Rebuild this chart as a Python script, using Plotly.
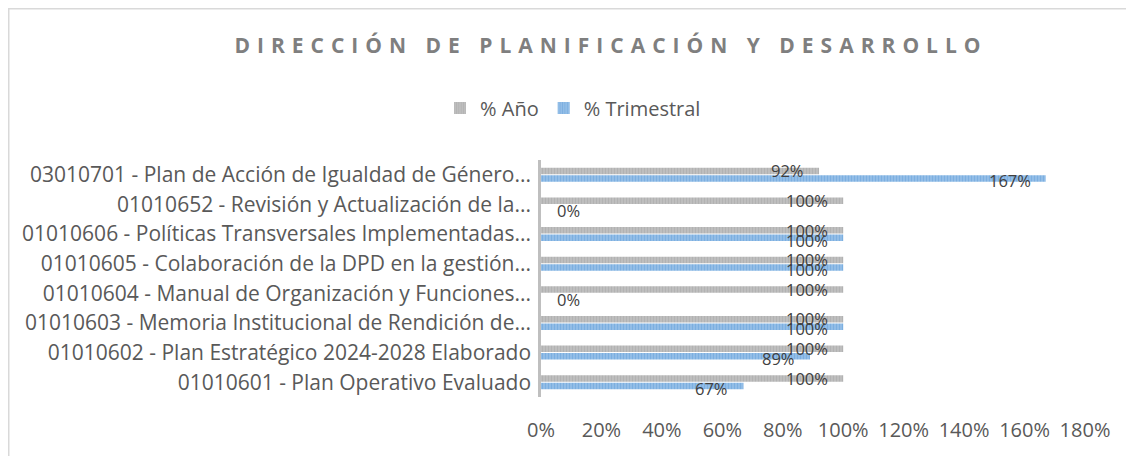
import plotly.graph_objects as go

categories = [
    "01010601 - Plan Operativo Evaluado",
    "01010602 - Plan Estratégico 2024-2028 Elaborado",
    "01010603 - Memoria Institucional de Rendición de...",
    "01010604 - Manual de Organización y Funciones...",
    "01010605 - Colaboración de la DPD en la gestión...",
    "01010606 - Políticas Transversales Implementadas...",
    "01010652 - Revisión y Actualización de la...",
    "03010701 - Plan de Acción de Igualdad de Género...",
]
pct_anio = [1.00, 1.00, 1.00, 1.00, 1.00, 1.00, 1.00, 0.92]
pct_trim = [0.67, 0.89, 1.00, 0.00, 1.00, 1.00, 0.00, 1.67]
x_ticks = [0, 0.2, 0.4, 0.6, 0.8, 1.0, 1.2, 1.4, 1.6, 1.8]

FONT = "Open Sans"
TXT = "#595959"
W, H = 1134, 456
OX, OY = 8, 8  # page body offset

# plot area in screen pixels
PL, PR, PT, PB = 541, 1085, 160, 397

fig = go.Figure()
fig.add_trace(go.Bar(
    name="% Trimestral", y=categories, x=pct_trim, orientation="h",
    marker=dict(color="#8fbbe6", line=dict(width=0),
                pattern=dict(shape="|", fgcolor="#5b9bd5", bgcolor="#9cc3ea", size=3, solidity=0.55)),
))
fig.add_trace(go.Bar(
    name="% Año", y=categories, x=pct_anio, orientation="h",
    marker=dict(color="#bdbdbd", line=dict(width=0),
                pattern=dict(shape="|", fgcolor="#a0a0a0", bgcolor="#c4c4c4", size=3, solidity=0.55)),
))

def add_labels(vals, shift_y):
    for c, v in zip(categories, vals):
        txt = f"{round(v*100):.0f}%"
        if v > 0:
            fig.add_annotation(x=v, y=c, text=txt, showarrow=False, xanchor="right",
                               xshift=-13, yshift=shift_y,
                               font=dict(family=FONT, size=16.5, color="#404040"))
        else:
            fig.add_annotation(x=v, y=c, text=txt, showarrow=False, xanchor="left",
                               xshift=14, yshift=shift_y,
                               font=dict(family=FONT, size=16.5, color="#404040"))

add_labels(pct_anio, 4)
add_labels(pct_trim, -6)

fig.update_layout(
    width=W, height=H,
    margin=dict(l=PL-OX, r=W-(PR-OX), t=PT-OY, b=H-(PB-OY), autoexpand=False),
    paper_bgcolor="white", plot_bgcolor="white",
    barmode="group", bargap=0.5, bargroupgap=0.12,
    font=dict(family=FONT, size=16, color=TXT),
    title=dict(text='<b><span style="letter-spacing:7px">DIRECCIÓN DE PLANIFICACIÓN Y DESARROLLO</span></b>',
               x=(611-OX)/W, xanchor="center", xref="container",
               y=1-(45.5-OY)/H, yanchor="middle", yref="container",
               font=dict(family=FONT, size=21, color="#7f7f7f")),
    legend=dict(orientation="h", traceorder="reversed",
                x=(573-OX)/W, xanchor="center", xref="container",
                y=1-(108-OY)/H, yanchor="middle", yref="container",
                font=dict(family=FONT, size=20, color=TXT),
                itemwidth=30, bgcolor="rgba(0,0,0,0)"),
    xaxis=dict(range=[0, 1.8], tickvals=x_ticks, tickformat=".0%",
               showgrid=False, zeroline=False, showline=False,
               ticks="", ticklabelstandoff=19, automargin=False,
               tickfont=dict(family=FONT, size=20, color=TXT)),
    yaxis=dict(range=[-0.5, len(categories) - 0.5], showgrid=False, zeroline=False,
               showline=True, linecolor="#bfbfbf", automargin=False,
               linewidth=2.5, ticks="", ticklabelstandoff=3,
               tickfont=dict(family=FONT, size=21, color=TXT)),
    showlegend=True,
)

# outer chart border (extends past the right / bottom edge of the view)
pw, ph = PR - PL, PB - PT
fig.add_shape(type="rect", xref="paper", yref="paper",
              x0=(0.75 - (PL-OX))/pw, x1=(1200 - (PL-OX))/pw,
              y0=-(520 - (PB-OY))/ph, y1=1+((PT-OY) - 0.75)/ph,
              line=dict(color="#d9d9d9", width=1.5), fillcolor="rgba(0,0,0,0)", layer="below")

fig.write_html("out.html")
